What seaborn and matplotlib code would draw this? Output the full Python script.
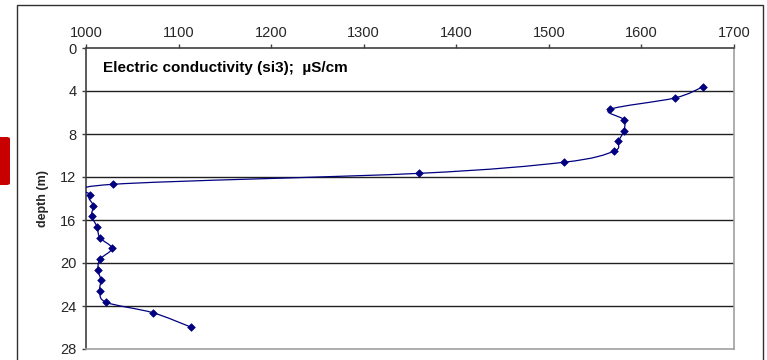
import numpy as np
import pandas as pd
import matplotlib
matplotlib.use("Agg")
import matplotlib.pyplot as plt
import seaborn as sns
from matplotlib.path import Path
from matplotlib.patches import PathPatch, Rectangle, FancyBboxPatch

# ---- data ----
conductivity = [1666, 1636, 1566, 1581, 1581, 1575, 1570, 1516, 1360,
                1029, 1004, 1008, 1006, 1012, 1015, 1028, 1015, 1013,
                1016, 1015, 1022, 1072, 1113]
depth = [3.63, 4.65, 5.71, 6.67, 7.69, 8.68, 9.61, 10.63, 11.66,
         12.68, 13.70, 14.67, 15.60, 16.65, 17.65, 18.64, 19.66, 20.65,
         21.58, 22.58, 23.66, 24.62, 25.95]
x_ticks = [1000, 1100, 1200, 1300, 1400, 1500, 1600, 1700]
y_ticks = [0, 4, 8, 12, 16, 20, 24, 28]
title_text = "Electric conductivity (si3);  µS/cm"
y_label = "depth (m)"

df = pd.DataFrame({"conductivity": conductivity, "depth": depth})

sns.set_theme(style="white")
plt.rcParams["font.family"] = ["Liberation Sans", "DejaVu Sans"]

fig = plt.figure(figsize=(7.67, 3.6), dpi=100)
ax = fig.add_axes([86 / 767, 1 - 349 / 360, 648 / 767, 301 / 360])

LINE = "#000080"

# smoothed line (Catmull-Rom as cubic Bezier, like a spreadsheet "smoothed line")
pts = np.column_stack([df["conductivity"].to_numpy(float), df["depth"].to_numpy(float)])
ext = np.vstack([pts[0], pts, pts[-1]])
verts = [tuple(pts[0])]
codes = [Path.MOVETO]
for i in range(1, len(ext) - 2):
    p0, p1, p2, p3 = ext[i - 1], ext[i], ext[i + 1], ext[i + 2]
    c1 = p1 + (p2 - p0) / 6.0
    c2 = p2 - (p3 - p1) / 6.0
    verts += [tuple(c1), tuple(c2), tuple(p2)]
    codes += [Path.CURVE4] * 3
ax.add_patch(PathPatch(Path(verts, codes), facecolor="none", edgecolor=LINE, lw=0.9, zorder=3))

sns.scatterplot(data=df, x="conductivity", y="depth", ax=ax, marker="D", s=15,
                color=LINE, edgecolor=LINE, linewidth=0.5, zorder=4, legend=False)

ax.set_xlim(1000, 1700)
ax.set_ylim(28, 0)
ax.set_xticks(x_ticks)
ax.set_yticks(y_ticks)
ax.xaxis.tick_top()
ax.xaxis.set_label_position("top")
ax.set_xlabel("")
ax.set_ylabel(y_label, fontsize=9, fontweight="bold", labelpad=8)
ax.tick_params(axis="x", which="both", top=True, bottom=False, direction="out",
               length=3, width=1, color="#404040", labelsize=10.5, pad=3)
ax.tick_params(axis="y", which="both", left=True, direction="out",
               length=3, width=1, color="#404040", labelsize=10.5, pad=4)

for d in y_ticks[1:-1]:
    ax.axhline(d, color="#202020", lw=1.0, zorder=1)

ax.spines["left"].set_color("#404040")
ax.spines["top"].set_color("#404040")
ax.spines["right"].set_color("#a0a0a0")
ax.spines["bottom"].set_color("#a0a0a0")
for s in ax.spines.values():
    s.set_linewidth(1.2)

ax.text(0.027, 0.933, title_text, transform=ax.transAxes, fontsize=11,
        fontweight="bold", ha="left", va="center", color="black")

# outer chart frame
fig.patches.append(Rectangle((17 / 767, -0.05), (763 - 17) / 767, 1.05 - 5 / 360,
                             transform=fig.transFigure, fill=False,
                             edgecolor="#303030", lw=1.0))
# red marker at the left edge
fig.patches.append(FancyBboxPatch((-6 / 767, 1 - 185 / 360), 16 / 767, 48 / 360,
                                  boxstyle="round,pad=0,rounding_size=0.005",
                                  transform=fig.transFigure, facecolor="#c80000",
                                  edgecolor="none"))

fig.savefig("out.png", dpi=100)
